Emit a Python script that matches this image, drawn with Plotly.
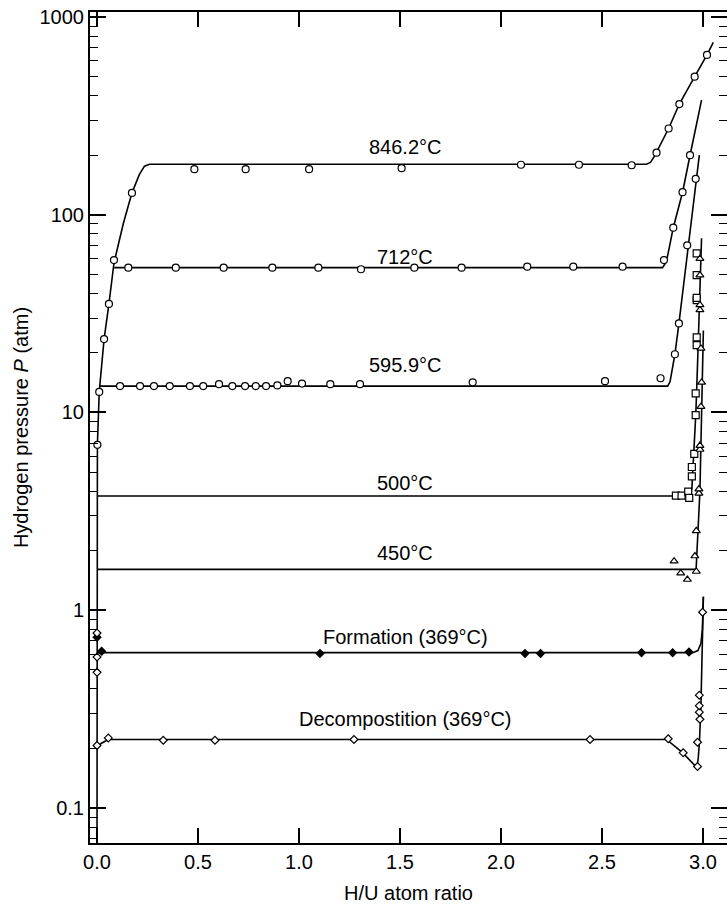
import numpy as np
import plotly.graph_objects as go

# ---------------- measured points ----------------
pts_846_x = [0.002, 0.011, 0.035, 0.059, 0.084, 0.173, 0.482, 0.736, 1.05, 1.508,
             2.099, 2.386, 2.647, 2.770, 2.830, 2.883, 2.959, 3.020]
pts_846_y = [6.86, 12.7, 23.5, 35.4, 59, 129, 170, 170, 170, 172,
             179, 179, 178, 206, 273, 363, 499, 643]

pts_712_x = [0.155, 0.39, 0.627, 0.868, 1.096, 1.307, 1.571, 1.805, 2.130, 2.358,
             2.602, 2.807, 2.853, 2.899, 2.936]
pts_712_y = [54, 54, 54, 54, 54, 53, 54, 54, 54.6, 54.6,
             54.6, 59, 86, 130, 200]

pts_596_x = [0.114, 0.213, 0.282, 0.36, 0.46, 0.526, 0.604, 0.67, 0.733, 0.786,
             0.837, 0.893, 0.944, 1.015, 1.155, 1.302, 1.860, 2.515, 2.790, 2.861,
             2.881, 2.922, 2.964]
pts_596_y = [13.6, 13.6, 13.6, 13.6, 13.6, 13.6, 13.9, 13.6, 13.6, 13.6,
             13.6, 13.7, 14.4, 14.0, 13.9, 13.9, 14.2, 14.4, 14.9, 19.7,
             28.2, 70, 152]

pts_500_x = [2.866, 2.894, 2.927, 2.932, 2.945, 2.945, 2.957, 2.964, 2.964, 2.969,
             2.969, 2.969, 2.969, 2.969, 2.969]
pts_500_y = [3.8, 3.8, 3.98, 3.7, 4.75, 5.3, 6.17, 9.7, 12.5, 21.9,
             24, 37, 38, 49.5, 63.8]

pts_450_x = [2.857, 2.890, 2.923, 2.967, 2.960, 2.967, 2.980, 2.980, 2.985, 2.985,
             2.990, 2.993, 2.990, 2.985, 2.985, 2.985, 2.985]
pts_450_y = [1.77, 1.54, 1.43, 1.57, 1.88, 2.52, 3.9, 4.1, 6.5, 6.8,
             10.7, 14.2, 21.1, 33, 35, 49.5, 60]

pts_form_x = [0.0, 0.023, 1.104, 2.119, 2.196, 2.696, 2.850, 2.931]
pts_form_y = [0.73, 0.62, 0.605, 0.605, 0.605, 0.61, 0.61, 0.615]

pts_dec_x = [0.0, 0.0, 0.0, 0.0, 0.056, 0.328, 0.584, 1.272, 2.441, 2.828,
             2.902, 2.973, 2.973, 2.985, 2.982, 2.982, 2.982, 2.998]
pts_dec_y = [0.767, 0.58, 0.485, 0.207, 0.226, 0.22, 0.22, 0.222, 0.222, 0.224,
             0.19, 0.162, 0.215, 0.281, 0.305, 0.329, 0.372, 0.977]

# ---------------- fitted isotherm curves ----------------
fit_846_x = [0.0, 0.0, 0.002, 0.011, 0.035, 0.059, 0.084, 0.13, 0.173, 0.21,
             0.235, 0.26, 2.72, 2.74, 2.76, 2.83, 2.883, 2.959, 3.02, 3.051]
fit_846_y = [0.066, 5.0, 6.9, 12.7, 23.5, 35.4, 57, 90, 129, 160,
             176, 180, 180, 184, 198, 273, 363, 499, 643, 745]

fit_712_x = [0.085, 2.80, 2.815, 2.825, 2.853, 2.899, 2.936, 2.993]
fit_712_y = [54, 54, 57, 62, 86, 130, 200, 380]

fit_596_x = [0.015, 2.825, 2.837, 2.861, 2.881, 2.924, 2.982]
fit_596_y = [13.6, 13.6, 14.3, 19.7, 28.2, 66, 200]

fit_500_x = [0.0, 2.93, 2.945, 2.955, 2.965, 2.975, 2.985, 2.993]
fit_500_y = [3.78, 3.78, 4.1, 6.0, 10, 20, 40, 76]

fit_450_x = [0.0, 2.966, 2.985, 3.002]
fit_450_y = [1.61, 1.61, 4.0, 26]

fit_form_x = [0.0, 2.95, 2.975, 2.990, 2.997, 3.0, 3.002]
fit_form_y = [0.61, 0.61, 0.625, 0.68, 0.8, 1.0, 1.17]

fit_dec_x = [0.0, 0.02, 0.056, 0.1, 2.82, 2.90, 2.970, 2.977, 2.983, 2.99, 2.998, 3.002]
fit_dec_y = [0.2, 0.212, 0.222, 0.222, 0.222, 0.19, 0.16, 0.18, 0.22, 0.33, 0.97, 1.17]

# ---------------- curve labels ----------------
label_text = ["846.2°C", "712°C", "595.9°C", "500°C", "450°C",
              "Formation (369°C)", "Decompostition (369°C)"]
label_x = [1.525, 1.525, 1.525, 1.525, 1.525, 1.525, 1.525]
label_y = [221, 61.4, 17.4, 4.4, 1.94, 0.735, 0.282]

x_ticks = [0.0, 0.5, 1.0, 1.5, 2.0, 2.5, 3.0]
y_ticks = [0.1, 1, 10, 100, 1000]

FONT = "Liberation Sans, Arial, sans-serif"
INK = "black"

fig = go.Figure()

curves = [(fit_846_x, fit_846_y), (fit_712_x, fit_712_y), (fit_596_x, fit_596_y),
          (fit_500_x, fit_500_y), (fit_450_x, fit_450_y), (fit_form_x, fit_form_y),
          (fit_dec_x, fit_dec_y)]
for cx, cy in curves:
    fig.add_trace(go.Scatter(x=cx, y=cy, mode="lines",
                             line=dict(color=INK, width=1.6),
                             showlegend=False, hoverinfo="skip"))

point_sets = [
    (pts_846_x, pts_846_y, "circle", 7, "white"),
    (pts_712_x, pts_712_y, "circle", 7, "white"),
    (pts_596_x, pts_596_y, "circle", 7, "white"),
    (pts_500_x, pts_500_y, "square", 7, "white"),
    (pts_450_x, pts_450_y, "triangle-up", 7, "white"),
    (pts_form_x, pts_form_y, "diamond", 6, INK),
    (pts_dec_x, pts_dec_y, "diamond", 6, "white"),
]
for px, py, sym, size, fill in point_sets:
    fig.add_trace(go.Scatter(x=px, y=py, mode="markers",
                             marker=dict(symbol=sym, size=size, color=fill,
                                         line=dict(color=INK, width=1.2)),
                             showlegend=False))

for txt, lx, ly in zip(label_text, label_x, label_y):
    fig.add_annotation(x=lx, y=np.log10(ly), text=txt, showarrow=False,
                       xanchor="center", yanchor="middle",
                       font=dict(family=FONT, size=20, color=INK))

minor_vals = [m * 10.0 ** e for e in range(-2, 3) for m in range(2, 10)]
minor_vals = [v for v in minor_vals if 0.066 < v < 1060]

fig.update_xaxes(
    range=[-0.0347, 3.119],
    tickvals=x_ticks, ticktext=[f"{v:.1f}" for v in x_ticks],
    ticks="inside", ticklen=15, tickwidth=1.6, tickcolor=INK,
    showline=True, linecolor=INK, linewidth=2, mirror="ticks",
    showgrid=False, zeroline=False,
    tickfont=dict(family=FONT, size=20, color=INK),
    title=dict(text="H/U atom ratio", font=dict(family=FONT, size=20, color=INK),
               standoff=15),
)
fig.update_yaxes(
    type="log", range=[np.log10(0.0665), np.log10(1060)],
    tickvals=y_ticks, ticktext=["0.1", "1", "10", "100", "1000"],
    ticks="inside", ticklen=16, tickwidth=1.6, tickcolor=INK,
    minor=dict(tickvals=minor_vals, ticks="inside", ticklen=8,
               tickwidth=1.4, tickcolor=INK, showgrid=False),
    showline=True, linecolor=INK, linewidth=2, mirror="ticks",
    showgrid=False, zeroline=False,
    tickfont=dict(family=FONT, size=20, color=INK),
    title=dict(text="Hydrogen pressure <i>P</i> (atm)",
               font=dict(family=FONT, size=20, color=INK), standoff=6),
)

fig.update_layout(
    width=727, height=904,
    margin=dict(l=90, r=0, t=12, b=61, autoexpand=False),
    paper_bgcolor="white", plot_bgcolor="white",
    showlegend=False,
)

fig.write_html("out.html")
